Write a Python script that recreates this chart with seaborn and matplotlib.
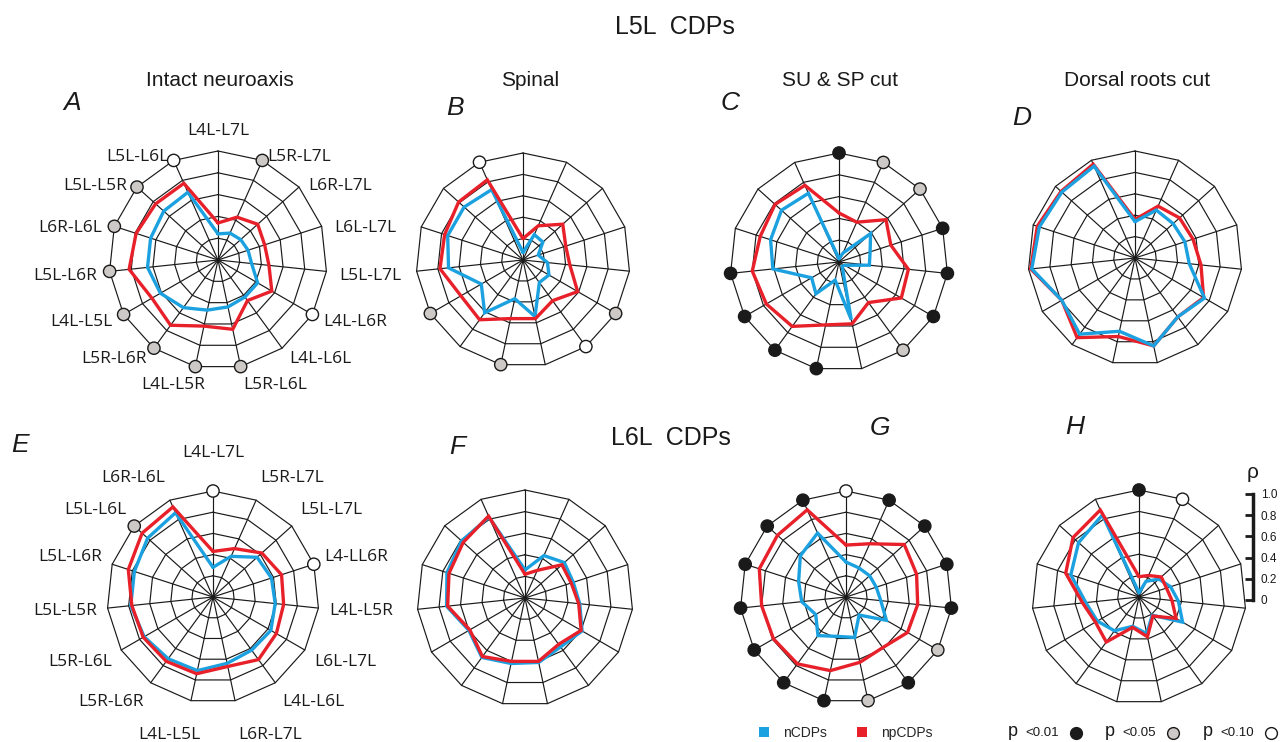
import numpy as np
import pandas as pd
import matplotlib
matplotlib.use("Agg")
import matplotlib.pyplot as plt
from matplotlib.lines import Line2D
from matplotlib.patches import Patch
import seaborn as sns

W, H = 1282, 742

# ---------------- data ----------------
labels_l5 = ["L4L-L7L", "L5R-L7L", "L6R-L7L", "L6L-L7L", "L5L-L7L", "L4L-L6R", "L4L-L6L",
             "L5R-L6L", "L4L-L5R", "L5R-L6R", "L4L-L5L", "L5L-L6R", "L6R-L6L", "L5L-L5R", "L5L-L6L"]
labels_l6 = ["L4L-L7L", "L5R-L7L", "L5L-L7L", "L4-LL6R", "L4L-L5R", "L6L-L7L", "L4L-L6L",
             "L6R-L7L", "L4L-L5L", "L5R-L6R", "L5R-L6L", "L5L-L5R", "L5L-L6R", "L5L-L6L", "L6R-L6L"]

# rho values per spoke, clockwise from top
a_ncdp = [0.24, 0.27, 0.28, 0.29, 0.31, 0.42, 0.42, 0.44, 0.47, 0.54, 0.61, 0.65, 0.65, 0.67, 0.68]
a_npcdp = [0.34, 0.43, 0.49, 0.45, 0.47, 0.57, 0.46, 0.65, 0.62, 0.74, 0.70, 0.82, 0.79, 0.77, 0.77]
b_ncdp = [0.07, 0.26, 0.25, 0.15, 0.23, 0.28, 0.26, 0.54, 0.37, 0.61, 0.45, 0.70, 0.74, 0.74, 0.72]
b_npcdp = [0.20, 0.35, 0.50, 0.42, 0.44, 0.59, 0.47, 0.56, 0.56, 0.69, 0.67, 0.78, 0.77, 0.81, 0.82]
c_ncdp = [0.03, 0.09, 0.39, 0.30, 0.28, 0.06, 0.05, 0.54, 0.17, 0.36, 0.29, 0.61, 0.66, 0.71, 0.69]
c_npcdp = [0.45, 0.40, 0.58, 0.50, 0.64, 0.66, 0.46, 0.58, 0.59, 0.73, 0.77, 0.80, 0.76, 0.79, 0.77]
d_ncdp = [0.34, 0.49, 0.48, 0.49, 0.51, 0.75, 0.68, 0.84, 0.70, 0.88, 0.79, 0.97, 0.94, 0.92, 0.94]
d_npcdp = [0.36, 0.53, 0.56, 0.57, 0.62, 0.74, 0.68, 0.84, 0.75, 0.92, 0.79, 0.98, 0.96, 0.93, 0.96]
e_ncdp = [0.28, 0.42, 0.56, 0.58, 0.59, 0.63, 0.62, 0.64, 0.71, 0.72, 0.75, 0.78, 0.78, 0.83, 0.87]
e_npcdp = [0.43, 0.50, 0.62, 0.68, 0.67, 0.69, 0.73, 0.67, 0.74, 0.75, 0.76, 0.77, 0.84, 0.90, 0.93]
f_ncdp = [0.26, 0.43, 0.49, 0.47, 0.51, 0.61, 0.56, 0.61, 0.62, 0.68, 0.60, 0.73, 0.76, 0.79, 0.82]
f_npcdp = [0.22, 0.28, 0.46, 0.45, 0.50, 0.60, 0.53, 0.60, 0.60, 0.67, 0.59, 0.72, 0.74, 0.77, 0.83]
g_ncdp = [0.33, 0.30, 0.30, 0.30, 0.33, 0.44, 0.21, 0.39, 0.38, 0.45, 0.33, 0.42, 0.47, 0.58, 0.66]
g_npcdp = [0.49, 0.55, 0.74, 0.70, 0.68, 0.67, 0.59, 0.63, 0.71, 0.78, 0.79, 0.80, 0.86, 0.87, 0.90]
h_ncdp = [0.04, 0.16, 0.25, 0.31, 0.37, 0.47, 0.21, 0.35, 0.28, 0.39, 0.45, 0.50, 0.67, 0.76, 0.84]
h_npcdp = [0.19, 0.22, 0.28, 0.27, 0.31, 0.40, 0.22, 0.38, 0.29, 0.52, 0.47, 0.53, 0.72, 0.83, 0.89]

# significance per spoke: b = p<0.01, g = p<0.05, w = p<0.10, - = none
a_sig = list("-g---w-gggggggw")
b_sig = list("-----gw-g-g---w")
c_sig = list("bggbbbg-bbbb---")
d_sig = list("---------------")
e_sig = list("w--w---------g-")
f_sig = list("---------------")
g_sig = list("wbbbbgbgbbbbbbb")
h_sig = list("bw-------------")

rho_ticks = [0, 0.2, 0.4, 0.6, 0.8, 1.0]
rho_ticklabels = ["0", "0.2", "0.4", "0.6", "0.8", "1.0"]

# ---------------- style ----------------
sns.set_style("white")
plt.rcParams["font.family"] = ["Liberation Sans", "DejaVu Sans"]

BLUE = "#1ba1e0"
RED = "#e8202a"
GREY = "#cdc9c6"
INK = "#1a1a1a"
LABEL_FONT = ["Open Sans", "DejaVu Sans"]

fig = plt.figure(figsize=(W / 100, H / 100), dpi=100)

N = 15
theta = np.arange(N) * 2 * np.pi / N
theta_c = np.append(theta, 2 * np.pi)


def closed(v):
    return np.append(np.asarray(v, float), v[0])


def radar(cx, cy, R, ncdp, npcdp, sig, blue_on_top=False):
    ax = fig.add_axes([(cx - R) / W, (H - cy - R) / H, 2 * R / W, 2 * R / H], projection="polar")
    ax.set_theta_zero_location("N")
    ax.set_theta_direction(-1)
    for r in rho_ticks[1:]:
        ax.plot(theta_c, np.full(N + 1, r), color=INK, lw=0.85, clip_on=False, zorder=1)
    for t in theta:
        ax.plot([t, t], [0, 1], color=INK, lw=0.85, clip_on=False, zorder=1)

    df = pd.DataFrame({
        "theta": np.concatenate([theta_c, theta_c]),
        "rho": np.concatenate([closed(ncdp), closed(npcdp)]),
        "group": ["nCDPs"] * (N + 1) + ["npCDPs"] * (N + 1),
    })
    zb, zr = (4, 3) if blue_on_top else (3, 4)
    for grp, col, z in [("nCDPs", BLUE, zb), ("npCDPs", RED, zr)]:
        sns.lineplot(data=df[df["group"] == grp], x="theta", y="rho", color=col, lw=2.4,
                     sort=False, estimator=None, ax=ax, zorder=z, legend=False,
                     solid_joinstyle="miter", clip_on=False)

    idx = [i for i, c in enumerate(sig) if c != "-"]
    if idx:
        mdf = pd.DataFrame({"theta": theta[idx], "rho": [1.0] * len(idx), "p": [sig[i] for i in idx]})
        sns.scatterplot(data=mdf, x="theta", y="rho", hue="p",
                        palette={"b": INK, "g": GREY, "w": "white"},
                        s=78, edgecolor=INK, linewidth=1.0, legend=False, ax=ax,
                        zorder=6, clip_on=False)

    ax.set_ylim(0, 1)
    ax.set_xticks([])
    ax.set_yticks([])
    ax.set_xlabel("")
    ax.set_ylabel("")
    ax.grid(False)
    ax.spines["polar"].set_visible(False)
    ax.patch.set_visible(False)
    return ax


def spoke_labels(ax, labels, kx, ky, dy0, top_off, fs=12.5):
    for t, lab in zip(theta, labels):
        s, c = np.sin(t), np.cos(t)
        if abs(s) < 0.05:
            ax.annotate(lab, xy=(t, 1.0), xytext=(0, top_off), textcoords="offset pixels",
                        ha="center", va="bottom", fontsize=fs, family=LABEL_FONT,
                        color=INK, annotation_clip=False)
            continue
        if abs(s) < 0.25 and c < 0:
            ha = "left" if s > 0 else "right"
            dx = 3 if s > 0 else 10
            ax.annotate(lab, xy=(t, 1.0), xytext=(dx, -ky - 2), textcoords="offset pixels",
                        ha=ha, va="top", fontsize=fs, family=LABEL_FONT,
                        color=INK, annotation_clip=False)
            continue
        ha = "left" if s > 0 else "right"
        ax.annotate(lab, xy=(t, 1.0), xytext=(kx * s, ky * c + dy0), textcoords="offset pixels",
                    ha=ha, va="center", fontsize=fs, family=LABEL_FONT,
                    color=INK, annotation_clip=False)


axA = radar(218, 260, 109, a_ncdp, a_npcdp, a_sig)
axB = radar(523, 260, 107, b_ncdp, b_npcdp, b_sig)
axC = radar(839, 262, 109, c_ncdp, c_npcdp, c_sig)
axD = radar(1135, 258, 107, d_ncdp, d_npcdp, d_sig, blue_on_top=True)
axE = radar(213, 597, 106, e_ncdp, e_npcdp, e_sig)
axF = radar(525, 598, 108, f_ncdp, f_npcdp, f_sig)
axG = radar(846, 597, 106, g_ncdp, g_npcdp, g_sig)
axH = radar(1139, 597, 107, h_ncdp, h_npcdp, h_sig)

spoke_labels(axA, labels_l5, kx=13, ky=8, dy0=-4, top_off=12)
spoke_labels(axE, labels_l6, kx=11, ky=24, dy0=0, top_off=30)

# ---------------- titles ----------------
fig.text(675 / W, 1 - 27 / H, "L5L  CDPs", ha="center", va="center", fontsize=18, color=INK)
fig.text(671 / W, 1 - 438 / H, "L6L  CDPs", ha="center", va="center", fontsize=18, color=INK)
for x, t in [(220, "Intact neuroaxis"), (530, "Spinal"), (840, "SU & SP cut"), (1137, "Dorsal roots cut")]:
    fig.text(x / W, 1 - 81 / H, t, ha="center", va="center", fontsize=15, color=INK)
for x, y, t in [(72, 103, "A"), (455, 108, "B"), (730, 103, "C"), (1022, 118, "D"),
                (20, 445, "E"), (457, 447, "F"), (880, 428, "G"), (1075, 427, "H")]:
    fig.text(x / W, 1 - y / H, t, ha="center", va="center", fontsize=19, style="italic", color=INK)

# ---------------- legends ----------------
fig.legend(handles=[Patch(facecolor=BLUE, edgecolor="none"), Patch(facecolor=RED, edgecolor="none")],
           labels=["nCDPs", "npCDPs"], ncol=2, loc="center", bbox_to_anchor=(846 / W, 1 - 733 / H),
           frameon=False, handlelength=0.7, handleheight=0.7, handletextpad=1.0,
           columnspacing=2.2, fontsize=10)

for px, lab, fc in [(1013, "<0.01", INK), (1110, "<0.05", GREY), (1208, "<0.10", "white")]:
    fig.text(px / W, 1 - 731 / H, "p", ha="center", va="center", fontsize=13, color=INK)
    fig.text((px + 12) / W, 1 - 733 / H, lab, ha="left", va="center", fontsize=9.5, color=INK)
    fig.add_artist(Line2D([(px + 63) / W], [1 - 733 / H], marker="o", ms=8.5, mfc=fc, mec=INK,
                          mew=1.0, transform=fig.transFigure))

# ---------------- rho scale bar ----------------
sax = fig.add_axes([1252 / W, (H - 600) / H, 0.0005, 106 / H])
sax.set_ylim(0, 1)
sax.set_xticks([])
sax.set_yticks(rho_ticks)
sax.set_yticklabels(rho_ticklabels)
for s in ["top", "bottom", "left"]:
    sax.spines[s].set_visible(False)
sax.spines["right"].set_linewidth(2.5)
sax.spines["right"].set_color(INK)
sax.tick_params(axis="y", left=False, right=True, labelleft=False, labelright=True,
                direction="in", length=6, width=2, pad=6, labelsize=8.5, colors=INK)
sax.patch.set_visible(False)
fig.text(1253 / W, 1 - 472 / H, "ρ", ha="center", va="center", fontsize=15, color=INK)

fig.savefig("out.png", dpi=100)
